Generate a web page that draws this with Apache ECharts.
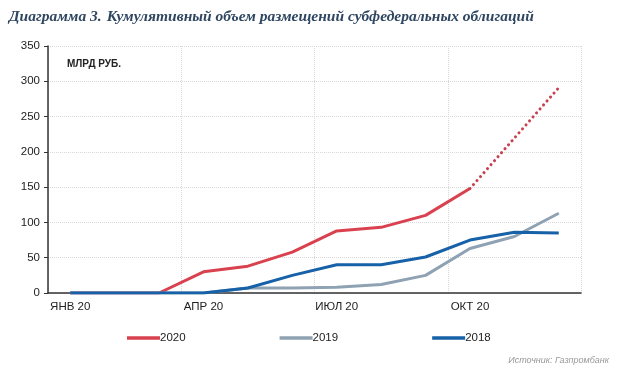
<!DOCTYPE html>
<html><head><meta charset="utf-8">
<script src="https://cdn.jsdelivr.net/npm/echarts@6/dist/echarts.min.js"></script>
<style>html,body{margin:0;padding:0;background:#fff}#c{width:620px;height:377px}</style>
</head><body><div id="c"></div>
<script>
var months = ['ЯНВ 20','ФЕВ 20','МАР 20','АПР 20','МАЙ 20','ИЮН 20','ИЮЛ 20','АВГ 20','СЕН 20','ОКТ 20','НОЯ 20','ДЕК 20'];
var s2020 = [0,0,0,30,38,58,88,93,110,148,null,null];
var s2020f = [null,null,null,null,null,null,null,null,null,148,null,291];
var s2019 = [0,0,0,0,7,7,8,12,25,63,80,113];
var s2018 = [0,0,0,0,7,25,40,40,51,75,86,85];
var yTicks = [0,50,100,150,200,250,300,350];

var chart = echarts.init(document.getElementById('c'));
var lab = {fontFamily:'Liberation Sans', fontSize:11.5, color:'#222'};
chart.setOption({
  animation:false,
  title:[{
    left:4, top:3,
    text:'{b|Диаграмма 3.} {n|Кумулятивный объем размещений субфедеральных облигаций}',
    textStyle:{rich:{
      b:{fontFamily:'Liberation Serif',fontStyle:'italic',fontWeight:'bold',fontSize:15.5,color:'#2f4660'},
      n:{fontFamily:'Liberation Serif',fontStyle:'italic',fontSize:15.5,color:'#2f4660'}
    }}
  },{
    left:62, top:54, text:'МЛРД РУБ.',
    textStyle:{fontFamily:'Liberation Sans',fontWeight:'bold',fontSize:10,color:'#222'}
  },{
    right:6, top:351, text:'Источник: Газпромбанк',
    textStyle:{fontFamily:'Liberation Sans',fontStyle:'italic',fontWeight:'normal',fontSize:9,color:'#999'}
  }],
  legend:{
    top:327, left:122, itemGap:94, itemWidth:33, itemHeight:3.5,
    icon:'rect',
    textStyle:{fontFamily:'Liberation Sans',fontSize:11.5,color:'#222',padding:[0,0,0,-5]},
    data:['2020','2019','2018']
  },
  grid:{left:48,right:39,top:46,bottom:84},
  xAxis:{
    type:'category', data:months, boundaryGap:true,
    axisLine:{lineStyle:{color:'#333',width:1.5}},
    axisTick:{interval:2,length:4,lineStyle:{color:'#333'}},
    axisLabel:Object.assign({interval:2,margin:8},lab),
    splitLine:{show:true,interval:2,lineStyle:{color:'#d8d8d8',type:'dotted'}}
  },
  yAxis:{
    type:'value', min:0, max:350, interval:50,
    axisLine:{show:true,lineStyle:{color:'#333',width:1.5}},
    axisTick:{show:true,length:4,lineStyle:{color:'#333'}},
    axisLabel:Object.assign({margin:8},lab),
    splitLine:{lineStyle:{color:'#d8d8d8',type:'dotted'}}
  },
  series:[
    {name:'2020',type:'line',data:s2020,symbol:'none',z:3,lineStyle:{color:'#d9414f',width:3},itemStyle:{color:'#d9414f'}},
    {name:'2020f',type:'line',data:s2020f,connectNulls:true,symbol:'none',z:3,lineStyle:{color:'#c8404e',width:3,type:[0.1,5.2],cap:'round'}},
    {name:'2019',type:'line',data:s2019,symbol:'none',z:4,lineStyle:{color:'#8fa2b3',width:3},itemStyle:{color:'#8fa2b3'}},
    {name:'2018',type:'line',data:s2018,symbol:'none',z:5,lineStyle:{color:'#1761a8',width:3},itemStyle:{color:'#1761a8'}}
  ]
});
</script></body></html>
